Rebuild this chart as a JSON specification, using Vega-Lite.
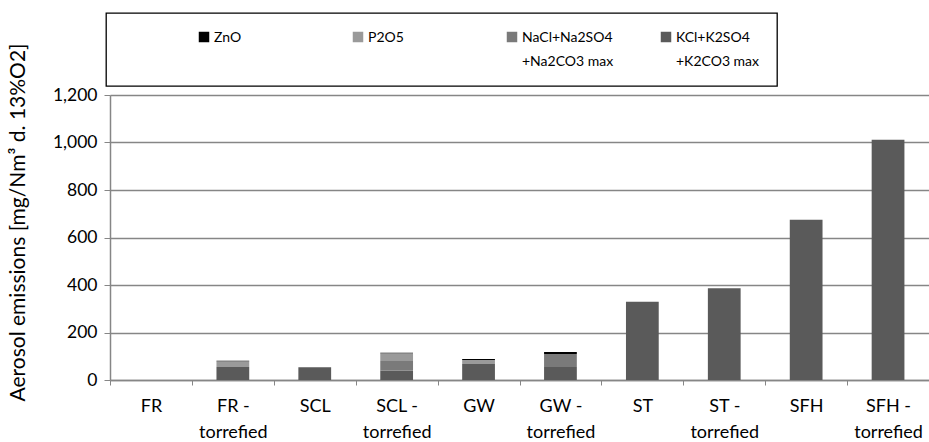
{
  "$schema": "https://vega.github.io/schema/vega-lite/v6.json",
  "width": 819,
  "height": 285,
  "autosize": {"type": "none"},
  "padding": {"left": 110, "top": 95, "right": 0, "bottom": 62},
  "background": "white",
  "config": {"font": "Lato", "view": {"stroke": null}},
  "data": {
    "values": [
      {"fuel": "FR", "component": "KCl+K2SO4+K2CO3 max", "value": 0},
      {"fuel": "FR - torrefied", "component": "KCl+K2SO4+K2CO3 max", "value": 55},
      {"fuel": "FR - torrefied", "component": "P2O5", "value": 24},
      {"fuel": "FR - torrefied", "component": "ZnO", "value": 2},
      {"fuel": "SCL", "component": "KCl+K2SO4+K2CO3 max", "value": 54},
      {"fuel": "SCL - torrefied", "component": "KCl+K2SO4+K2CO3 max", "value": 40},
      {"fuel": "SCL - torrefied", "component": "NaCl+Na2SO4+Na2CO3 max", "value": 40},
      {"fuel": "SCL - torrefied", "component": "P2O5", "value": 33},
      {"fuel": "SCL - torrefied", "component": "ZnO", "value": 2},
      {"fuel": "GW", "component": "KCl+K2SO4+K2CO3 max", "value": 67},
      {"fuel": "GW", "component": "P2O5", "value": 17},
      {"fuel": "GW", "component": "ZnO", "value": 4},
      {"fuel": "GW - torrefied", "component": "KCl+K2SO4+K2CO3 max", "value": 55},
      {"fuel": "GW - torrefied", "component": "NaCl+Na2SO4+Na2CO3 max", "value": 55},
      {"fuel": "GW - torrefied", "component": "ZnO", "value": 8},
      {"fuel": "ST", "component": "KCl+K2SO4+K2CO3 max", "value": 330},
      {"fuel": "ST - torrefied", "component": "KCl+K2SO4+K2CO3 max", "value": 386},
      {"fuel": "SFH", "component": "KCl+K2SO4+K2CO3 max", "value": 675},
      {"fuel": "SFH - torrefied", "component": "KCl+K2SO4+K2CO3 max", "value": 1012}
    ]
  },
  "mark": {"type": "bar", "width": {"band": 0.4}},
  "encoding": {
    "x": {
      "field": "fuel",
      "type": "nominal",
      "sort": ["FR", "FR - torrefied", "SCL", "SCL - torrefied", "GW", "GW - torrefied", "ST", "ST - torrefied", "SFH", "SFH - torrefied"],
      "scale": {"paddingInner": 0, "paddingOuter": 0},
      "axis": {
        "title": null,
        "labelAngle": 0,
        "labelExpr": "split(replace(datum.label, ' - torrefied', ' -|torrefied'), '|')",
        "labelFont": "Lato",
        "labelFontSize": 18,
        "labelLineHeight": 26,
        "labelColor": "#000",
        "labelBaseline": "top",
        "labelPadding": 12,
        "tickBand": "extent",
        "tickSize": 5,
        "tickColor": "#868686",
        "domainColor": "#868686",
        "domainWidth": 1.5,
        "grid": false
      }
    },
    "y": {
      "field": "value",
      "type": "quantitative",
      "stack": "zero",
      "scale": {"domain": [0, 1200]},
      "axis": {
        "values": [0, 200, 400, 600, 800, 1000, 1200],
        "format": ",.0f",
        "title": "Aerosol emissions [mg/Nm³ d. 13%O2]",
        "titleFont": "Lato",
        "titleFontSize": 21,
        "titleFontWeight": "normal",
        "titleColor": "#000",
        "titleAngle": -90,
        "titleAlign": "center",
        "titleBaseline": "middle",
        "titleX": -92,
        "titleY": 127,
        "labelFont": "Lato",
        "labelFontSize": 17.5,
        "labelColor": "#000",
        "labelPadding": 7,
        "tickSize": 6,
        "tickColor": "#868686",
        "domainColor": "#868686",
        "domainWidth": 1.5,
        "gridColor": "#868686",
        "gridWidth": 1.3
      }
    },
    "color": {
      "field": "component",
      "type": "nominal",
      "scale": {
        "domain": ["ZnO", "P2O5", "NaCl+Na2SO4+Na2CO3 max", "KCl+K2SO4+K2CO3 max"],
        "range": ["#000000", "#9a9a9a", "#7a7a7a", "#5a5a5a"]
      },
      "legend": {
        "orient": "none",
        "legendX": -4,
        "legendY": -82,
        "direction": "horizontal",
        "columns": 4,
        "gridAlign": "all",
        "columnPadding": 45,
        "title": "\u00a0",
        "titleOrient": "left",
        "titlePadding": 74,
        "titleFontSize": 14,
        "padding": 17,
        "strokeColor": "#000",
        "fillColor": "#fff",
        "symbolType": "square",
        "symbolSize": 110,
        "symbolStrokeWidth": 0,
        "symbolOpacity": 1,
        "labelFont": "Lato",
        "labelFontSize": 14,
        "labelColor": "#000",
        "labelBaseline": "top",
        "labelOffset": 3,
        "labelLimit": 300,
        "labelExpr": "split(indexof(datum.label, '4+') > 0 ? replace(datum.label, '4+', '4|+') : datum.label + '|\u00a0', '|')",
        "encode": {
          "legend": {"update": {"strokeWidth": {"value": 1.3}}},
          "labels": {"update": {"lineHeight": {"value": 24}, "dy": {"value": -6}}}
        }
      }
    },
    "order": {"field": "component", "sort": "ascending"}
  }
}
